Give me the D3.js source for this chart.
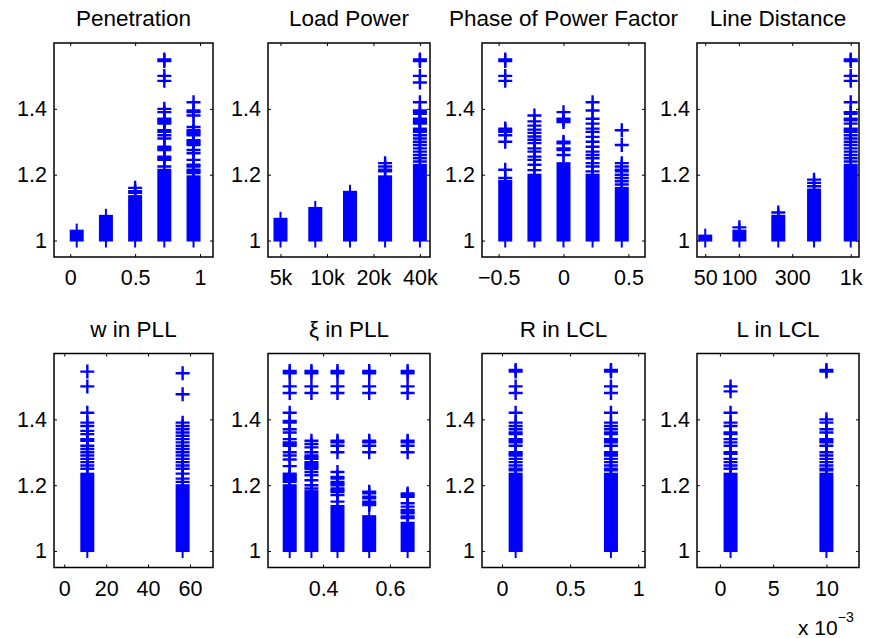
<!DOCTYPE html>
<html>
<head>
<meta charset="utf-8">
<script src="https://cdn.jsdelivr.net/npm/d3@7/dist/d3.min.js"></script>
<style>
  body { margin: 0; background: #fff; }
  svg text { font-family: "Liberation Sans", Arial, Helvetica, sans-serif; fill: #000; }
  .axis path, .axis line { stroke: #000; }
</style>
</head>
<body>
<svg id="chart" width="880" height="638"></svg>
<script>
// ---- data ----
var titles = ["Penetration", "Load Power", "Phase of Power Factor", "Line Distance",
              "w in PLL", "\u03be in PLL", "R in LCL", "L in LCL"];
var yTicks = [1, 1.2, 1.4];

// each column: dense band [lo, hi] and isolated marker values
var penetrationX = [0.05, 0.275, 0.5, 0.725, 0.95];
var penetrationBands = [[1, 1.03], [1, 1.075], [1, 1.135], [1, 1.215], [1, 1.195]];
var penetrationPoints = [
    [], [], [1.145, 1.15, 1.16],
    [1.225, 1.245, 1.25, 1.255, 1.275, 1.28, 1.285, 1.31, 1.32, 1.33, 1.335, 1.355, 1.36, 1.365, 1.37, 1.39, 1.40, 1.485, 1.50, 1.545, 1.55],
    [1.205, 1.21, 1.215, 1.225, 1.23, 1.245, 1.265, 1.275, 1.29, 1.295, 1.30, 1.305, 1.32, 1.325, 1.33, 1.335, 1.345, 1.38, 1.39, 1.395, 1.42]
];
var penetrationTicks = [0, 0.5, 1];
var penetrationLabels = ["0", "0.5", "1"];

var loadX = [5000, 8400, 14100, 23800, 40000];
var loadBands = [[1, 1.066], [1, 1.099], [1, 1.148], [1, 1.195], [1, 1.23]];
var loadPoints = [
    [], [], [],
    [1.21, 1.215, 1.225, 1.235],
    [1.24, 1.25, 1.26, 1.27, 1.28, 1.29, 1.30, 1.31, 1.32, 1.33, 1.335, 1.34, 1.355, 1.36, 1.365, 1.37, 1.385, 1.39, 1.395, 1.42, 1.48, 1.50, 1.545, 1.55]
];
var loadTicks = [5000, 10000, 20000, 40000];
var loadLabels = ["5k", "10k", "20k", "40k"];

var phaseX = [-0.449, -0.224, 0, 0.224, 0.449];
var phaseBands = [[1, 1.175], [1, 1.2], [1, 1.235], [1, 1.2], [1, 1.16]];
var phasePoints = [
    [1.18, 1.19, 1.215, 1.30, 1.32, 1.33, 1.335, 1.34, 1.485, 1.50, 1.545, 1.55],
    [1.214, 1.23, 1.245, 1.255, 1.27, 1.28, 1.296, 1.306, 1.316, 1.327, 1.337, 1.349, 1.362, 1.38],
    [1.26, 1.275, 1.28, 1.295, 1.30, 1.36, 1.365, 1.37, 1.39],
    [1.21, 1.225, 1.235, 1.25, 1.26, 1.27, 1.285, 1.30, 1.315, 1.33, 1.34, 1.355, 1.37, 1.395, 1.42],
    [1.17, 1.18, 1.19, 1.20, 1.21, 1.215, 1.225, 1.235, 1.29, 1.335]
];
var phaseTicks = [-0.5, 0, 0.5];
var phaseLabels = ["\u22120.5", "0", "0.5"];

var distanceX = [50, 101, 225, 470, 1000];
var distanceBands = [[1, 1.015], [1, 1.03], [1, 1.07], [1, 1.155], [1, 1.23]];
var distancePoints = [
    [], [1.04], [1.075, 1.085], [1.165, 1.175, 1.185],
    [1.24, 1.25, 1.26, 1.27, 1.28, 1.29, 1.30, 1.31, 1.32, 1.33, 1.335, 1.34, 1.355, 1.365, 1.37, 1.385, 1.39, 1.42, 1.485, 1.50, 1.545, 1.55]
];
var distanceTicks = [50, 100, 300, 1000];
var distanceLabels = ["50", "100", "300", "1k"];

var wX = [11, 56.5];
var wBands = [[1, 1.235], [1, 1.2]];
var wPoints = [
    [1.25, 1.26, 1.27, 1.28, 1.29, 1.30, 1.31, 1.32, 1.335, 1.34, 1.355, 1.365, 1.38, 1.39, 1.42, 1.50, 1.545],
    [1.21, 1.22, 1.235, 1.25, 1.26, 1.27, 1.28, 1.29, 1.30, 1.31, 1.32, 1.33, 1.34, 1.35, 1.36, 1.37, 1.38, 1.39, 1.476, 1.54]
];
var wTicks = [0, 20, 40, 60];
var wLabels = ["0", "20", "40", "60"];

var xiX = [0.3, 0.365, 0.443, 0.538, 0.653];
var xiBands = [[1, 1.2], [1, 1.182], [1, 1.137], [1, 1.106], [1, 1.086]];
var xiPoints = [
    [1.21, 1.215, 1.22, 1.225, 1.23, 1.235, 1.258, 1.278, 1.29, 1.30, 1.32, 1.325, 1.33, 1.34, 1.36, 1.37, 1.39, 1.395, 1.42, 1.48, 1.50, 1.54, 1.547],
    [1.19, 1.20, 1.215, 1.23, 1.24, 1.25, 1.255, 1.26, 1.265, 1.27, 1.28, 1.285, 1.29, 1.30, 1.315, 1.325, 1.335, 1.48, 1.50, 1.54, 1.547],
    [1.15, 1.17, 1.18, 1.185, 1.19, 1.20, 1.205, 1.21, 1.22, 1.225, 1.24, 1.30, 1.32, 1.33, 1.335, 1.48, 1.50, 1.54, 1.547],
    [1.14, 1.145, 1.15, 1.16, 1.165, 1.175, 1.18, 1.30, 1.32, 1.33, 1.335, 1.48, 1.50, 1.54, 1.547],
    [1.10, 1.105, 1.115, 1.12, 1.125, 1.135, 1.145, 1.165, 1.17, 1.175, 1.30, 1.32, 1.33, 1.335, 1.48, 1.50, 1.54, 1.547]
];
var xiTicks = [0.4, 0.6];
var xiLabels = ["0.4", "0.6"];

var rX = [0.1, 0.8];
var rBands = [[1, 1.235], [1, 1.235]];
var rPoints = [
    [1.245, 1.25, 1.26, 1.27, 1.28, 1.29, 1.295, 1.30, 1.32, 1.33, 1.335, 1.34, 1.355, 1.36, 1.37, 1.38, 1.39, 1.42, 1.48, 1.50, 1.545, 1.55],
    [1.245, 1.25, 1.26, 1.27, 1.28, 1.29, 1.295, 1.30, 1.32, 1.33, 1.335, 1.34, 1.355, 1.36, 1.37, 1.38, 1.39, 1.42, 1.48, 1.50, 1.545, 1.55]
];
var rTicks = [0, 0.5, 1];
var rLabels = ["0", "0.5", "1"];

var lX = [0.001, 0.01];
var lBands = [[1, 1.235], [1, 1.235]];
var lPoints = [
    [1.25, 1.26, 1.27, 1.28, 1.295, 1.30, 1.32, 1.33, 1.34, 1.355, 1.36, 1.38, 1.39, 1.42, 1.485, 1.50],
    [1.245, 1.25, 1.26, 1.27, 1.28, 1.29, 1.30, 1.32, 1.33, 1.335, 1.34, 1.36, 1.37, 1.39, 1.40, 1.545, 1.55]
];
var lTicks = [0, 0.005, 0.01];
var lLabels = ["0", "5", "10"];

// ---- layout ----
var colLeft = [54, 268, 482, 697];
var colRight = [213, 430, 645, 859];
var rowTop = [43, 353.5];
var rowBottom = [257, 567.5];
var yDomain = [0.95, 1.6];
var half = 7;
var blue = "#0000ff";

var panels = [
    {xs: penetrationX, bands: penetrationBands, points: penetrationPoints, log: false, domain: [-0.125, 1.1], ticks: penetrationTicks, labels: penetrationLabels},
    {xs: loadX, bands: loadBands, points: loadPoints, log: true, domain: [4150, 46500], ticks: loadTicks, labels: loadLabels},
    {xs: phaseX, bands: phaseBands, points: phasePoints, log: false, domain: [-0.628, 0.628], ticks: phaseTicks, labels: phaseLabels},
    {xs: distanceX, bands: distanceBands, points: distancePoints, log: true, domain: [42.2, 1186], ticks: distanceTicks, labels: distanceLabels},
    {xs: wX, bands: wBands, points: wPoints, log: false, domain: [-4.9, 71], ticks: wTicks, labels: wLabels},
    {xs: xiX, bands: xiBands, points: xiPoints, log: false, domain: [0.235, 0.72], ticks: xiTicks, labels: xiLabels},
    {xs: rX, bands: rBands, points: rPoints, log: false, domain: [-0.147, 1.05], ticks: rTicks, labels: rLabels},
    {xs: lX, bands: lBands, points: lPoints, log: false, domain: [-0.00215, 0.01306], ticks: lTicks, labels: lLabels}
];

var svg = d3.select("#chart");

function plusPath(cx, cy) {
    return "M" + (cx - half) + "," + cy + "H" + (cx + half) + "M" + cx + "," + (cy - half) + "V" + (cy + half);
}

function drawPanel(p, i) {
    var row = Math.floor(i / 4), col = i % 4;
    var x0 = colLeft[col], x1 = colRight[col], y0 = rowTop[row], y1 = rowBottom[row];
    var w = x1 - x0, h = y1 - y0;
    var x = (p.log ? d3.scaleLog() : d3.scaleLinear()).domain(p.domain).range([0, w]);
    var y = d3.scaleLinear().domain(yDomain).range([h, 0]);
    var g = svg.append("g").attr("transform", "translate(" + x0 + "," + y0 + ")");

    var fmt = function (d) { return p.labels[p.ticks.indexOf(d)]; };
    g.append("g").attr("class", "axis").attr("transform", "translate(0," + h + ")")
        .call(d3.axisBottom(x).tickValues(p.ticks).tickFormat(fmt).tickSize(-3).tickSizeOuter(0).tickPadding(13));
    g.append("g").attr("class", "axis")
        .call(d3.axisTop(x).tickValues(p.ticks).tickFormat("").tickSize(-3).tickSizeOuter(0));
    g.append("g").attr("class", "axis")
        .call(d3.axisLeft(y).tickValues(yTicks).tickFormat(function (d) { return String(d); }).tickSize(-3).tickSizeOuter(0).tickPadding(7));
    g.append("g").attr("class", "axis").attr("transform", "translate(" + w + ",0)")
        .call(d3.axisRight(y).tickValues(yTicks).tickFormat("").tickSize(-3).tickSizeOuter(0));
    g.selectAll(".axis text").attr("font-size", 21.5);
    g.selectAll(".axis path").remove();
    g.selectAll(".axis line").attr("stroke-width", 1);

    // columns: dense band drawn as a filled run of markers, then isolated markers
    p.xs.forEach(function (xv, k) {
        var cx = x(xv);
        var lo = y(p.bands[k][0]), hi = y(p.bands[k][1]);
        g.append("rect")
            .attr("x", cx - half).attr("width", half * 2)
            .attr("y", hi - 1).attr("height", lo - hi + 2)
            .attr("fill", blue);
        g.append("line")
            .attr("x1", cx).attr("x2", cx)
            .attr("y1", hi - half).attr("y2", lo + half)
            .attr("stroke", blue).attr("stroke-width", 2);
        g.selectAll(null).data(p.points[k]).enter().append("path")
            .attr("d", function (v) { return plusPath(cx, y(v)); })
            .attr("fill", "none").attr("stroke", blue).attr("stroke-width", 2.4);
    });

    g.append("rect").attr("width", w).attr("height", h)
        .attr("fill", "none").attr("stroke", "#000").attr("stroke-width", 1.5);

    svg.append("text")
        .attr("x", x0 + w / 2).attr("y", row === 0 ? 26 : 336.5)
        .attr("text-anchor", "middle").attr("font-size", 22.5)
        .text(titles[i]);
}

panels.forEach(drawPanel);

// exponent label under the last panel
var expo = svg.append("text").attr("x", 798).attr("y", 635).attr("font-size", 21);
expo.append("tspan").text("x 10");
expo.append("tspan").attr("font-size", 14).attr("dy", -13).text("\u22123");
</script>
</body>
</html>
